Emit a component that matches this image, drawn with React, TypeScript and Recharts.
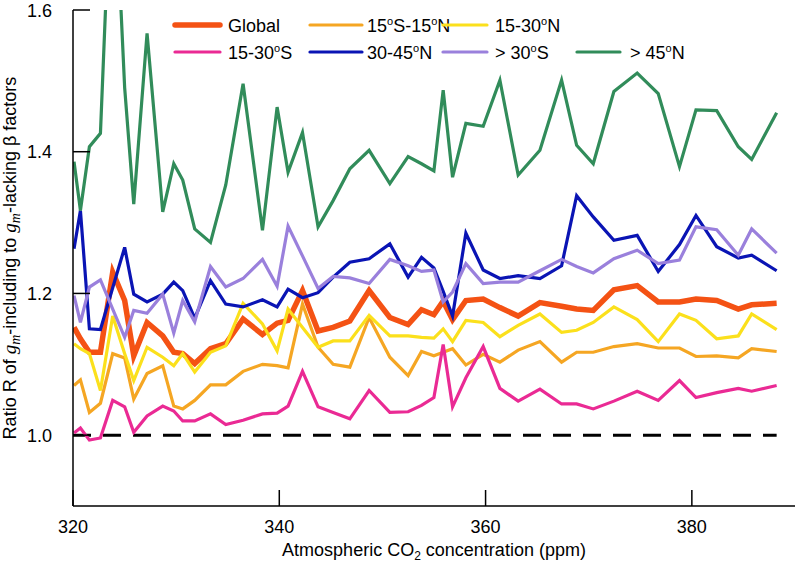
import React from 'react';
import { LineChart, Line, XAxis, YAxis, ReferenceLine, Legend } from 'recharts';

const FONT = '"Liberation Sans", Arial, Helvetica, sans-serif';
const SERIF = '"Liberation Serif", "DejaVu Serif", serif';

// CO2 (ppm) for each yearly point
const co2 = [
  320.1, 320.72, 321.59, 322.66, 323.85, 325.01, 325.89, 327.18, 328.7, 329.77,
  330.64, 331.8, 333.33, 334.81, 336.49, 338.37, 339.79, 340.85, 342.25, 343.76,
  345.22, 346.84, 348.71, 350.72, 352.49, 353.79, 354.99, 355.89, 356.8, 358.09,
  359.77, 361.39, 363.16, 365.27, 367.37, 368.83, 370.44, 372.44, 374.7, 376.74,
  378.8, 380.4, 382.41, 384.5, 385.8, 388.22,
];

const rGlobal = [
  1.152, 1.136, 1.117, 1.117, 1.23, 1.19, 1.112, 1.159, 1.14, 1.117,
  1.115, 1.101, 1.122, 1.129, 1.164, 1.142, 1.158, 1.162, 1.204, 1.147,
  1.152, 1.161, 1.204, 1.166, 1.156, 1.177, 1.17, 1.189, 1.163, 1.19,
  1.192, 1.18, 1.168, 1.187, 1.182, 1.178, 1.176, 1.205, 1.211, 1.188,
  1.188, 1.192, 1.19, 1.178, 1.184, 1.186,
];

const rTropics = [
  1.07, 1.078, 1.032, 1.045, 1.115, 1.109, 1.051, 1.087, 1.098, 1.041,
  1.037, 1.049, 1.071, 1.071, 1.09, 1.1, 1.098, 1.095, 1.185, 1.124,
  1.1, 1.096, 1.166, 1.11, 1.084, 1.118, 1.112, 1.117, 1.122, 1.099,
  1.114, 1.103, 1.12, 1.132, 1.103, 1.117, 1.117, 1.125, 1.129, 1.123,
  1.123, 1.111, 1.112, 1.109, 1.122, 1.118,
];

const rN15 = [
  1.129, 1.122, 1.115, 1.063, 1.168, 1.115, 1.077, 1.124, 1.11, 1.098,
  1.115, 1.089, 1.117, 1.126, 1.186, 1.157, 1.119, 1.178, 1.152, 1.124,
  1.133, 1.133, 1.169, 1.14, 1.14, 1.138, 1.137, 1.15, 1.132, 1.162,
  1.159, 1.139, 1.155, 1.171, 1.145, 1.148, 1.159, 1.181, 1.163, 1.132,
  1.171, 1.162, 1.136, 1.14, 1.171, 1.149,
];

const rS15 = [
  1.003, 1.01, 0.993, 0.996, 1.049, 1.04, 1.004, 1.027, 1.041, 1.034,
  1.02, 1.02, 1.03, 1.015, 1.021, 1.03, 1.031, 1.041, 1.09, 1.04,
  1.032, 1.023, 1.063, 1.032, 1.033, 1.042, 1.053, 1.128, 1.04, 1.081,
  1.125, 1.066, 1.048, 1.065, 1.044, 1.044, 1.037, 1.048, 1.062, 1.049,
  1.077, 1.053, 1.06, 1.066, 1.062, 1.07,
];

const rN30 = [
  1.263, 1.317, 1.15, 1.149, 1.208, 1.265, 1.199, 1.188, 1.199, 1.216,
  1.204, 1.165, 1.218, 1.185, 1.181, 1.191, 1.181, 1.206, 1.194, 1.201,
  1.223, 1.244, 1.249, 1.27, 1.223, 1.251, 1.236, 1.203, 1.168, 1.285,
  1.233, 1.221, 1.225, 1.221, 1.239, 1.338, 1.308, 1.275, 1.282, 1.231,
  1.269, 1.31, 1.266, 1.25, 1.254, 1.232,
];

const rS30 = [
  1.197, 1.159, 1.209, 1.219, 1.178, 1.138, 1.176, 1.172, 1.199, 1.144,
  1.19, 1.16, 1.238, 1.209, 1.221, 1.248, 1.21, 1.295, 1.253, 1.207,
  1.224, 1.222, 1.214, 1.248, 1.239, 1.231, 1.233, 1.188, 1.202, 1.242,
  1.214, 1.216, 1.216, 1.232, 1.248, 1.238, 1.229, 1.249, 1.261, 1.242,
  1.247, 1.294, 1.29, 1.254, 1.291, 1.257,
];

const rN45 = [
  1.386, 1.317, 1.407, 1.426, 1.85, 1.49, 1.326, 1.567, 1.315, 1.383,
  1.36, 1.291, 1.272, 1.353, 1.496, 1.289, 1.463, 1.371, 1.427, 1.294,
  1.331, 1.376, 1.402, 1.355, 1.393, 1.383, 1.373, 1.487, 1.364, 1.44,
  1.436, 1.501, 1.367, 1.402, 1.501, 1.409, 1.383, 1.485, 1.511, 1.482,
  1.379, 1.459, 1.458, 1.407, 1.389, 1.455,
];

const yTicks = [1.0, 1.2, 1.4, 1.6];
const xTicks = [320, 340, 360, 380];

const series = [
  { key: 'global', name: 'Global', color: '#f45214', width: 5.5, values: rGlobal },
  { key: 'tropics', name: '15°S-15°N', color: '#f5a623', width: 3.2, values: rTropics },
  { key: 'n15', name: '15-30°N', color: '#fbe01c', width: 3.2, values: rN15 },
  { key: 's15', name: '15-30°S', color: '#ea2a94', width: 3.2, values: rS15 },
  { key: 'n30', name: '30-45°N', color: '#0a14b4', width: 3.2, values: rN30 },
  { key: 's30', name: '> 30°S', color: '#9a80dc', width: 3.2, values: rS30 },
  { key: 'n45', name: '> 45°N', color: '#318c5a', width: 3.2, values: rN45 },
];

const data = co2.map((c, i) => {
  const row: Record<string, number> = { co2: c };
  series.forEach((s) => {
    row[s.key] = s.values[i];
  });
  return row;
});

// [line start, line end, text x, line y] for each legend entry
const legendSlots = [
  [175, 220, 228, 25],
  [310, 362, 367, 25],
  [443, 487, 495, 25],
  [175, 220, 228, 52],
  [310, 362, 367, 52],
  [443, 487, 495, 52],
  [577, 620, 630, 52],
];

// turns the degree sign into a small raised "o"
function degText(label: string) {
  const parts = label.split('°');
  return parts.map((p, i) => (
    <React.Fragment key={i}>
      {i > 0 && (
        <tspan dy={-7} fontSize={11}>
          o
        </tspan>
      )}
      <tspan dy={i > 0 ? 7 : 0}>{p}</tspan>
    </React.Fragment>
  ));
}

function renderLegend() {
  return (
    <svg width={799} height={70} style={{ display: 'block' }}>
      {series.map((s, i) => {
        const [x1, x2, tx, y] = legendSlots[i];
        return (
          <g key={s.key}>
            <line x1={x1} x2={x2} y1={y} y2={y} stroke={s.color} strokeWidth={s.width} strokeLinecap="round" />
            <text x={tx} y={y + 6.5} fontSize={18} fontFamily={FONT} fill="#000">
              {degText(s.name)}
            </text>
          </g>
        );
      })}
    </svg>
  );
}

function renderXTitle() {
  return (
    <text x={434} y={556} textAnchor="middle" fontSize={18} fontFamily={FONT} fill="#000">
      {'Atmospheric CO'}
      <tspan dy={4} fontSize={12}>
        2
      </tspan>
      <tspan dy={-4}>{' concentration (ppm)'}</tspan>
    </text>
  );
}

function renderYTitle() {
  return (
    <text
      x={15.5}
      y={258}
      transform="rotate(-90 15.5 258)"
      textAnchor="middle"
      fontSize={18}
      fontFamily={FONT}
      fill="#000"
    >
      {'Ratio R of '}
      <tspan fontFamily={SERIF} fontStyle="italic" fontSize={19}>g</tspan>
      <tspan fontFamily={SERIF} fontStyle="italic" fontSize={14} dy={4}>m</tspan>
      <tspan dy={-4}>{'-including to '}</tspan>
      <tspan fontFamily={SERIF} fontStyle="italic" fontSize={19}>g</tspan>
      <tspan fontFamily={SERIF} fontStyle="italic" fontSize={14} dy={4}>m</tspan>
      <tspan dy={-4}>{'-lacking β factors'}</tspan>
    </text>
  );
}

export default function App() {
  return (
    <div style={{ position: 'absolute', left: 0, top: 0, background: '#fff' }}>
      <LineChart width={799} height={562} data={data} margin={{ top: 10, right: 4, bottom: 0, left: 0 }}>
        <XAxis
          dataKey="co2"
          type="number"
          domain={[320, 390]}
          ticks={xTicks}
          allowDataOverflow
          height={56}
          tickSize={-16}
          tickMargin={30}
          axisLine={{ stroke: '#000', strokeWidth: 1.5 }}
          tickLine={{ stroke: '#000', strokeWidth: 1.5 }}
          tick={{ fontSize: 18, fill: '#000', fontFamily: FONT }}
          label={{ content: renderXTitle }}
        />
        <YAxis
          type="number"
          domain={[0.9, 1.6]}
          ticks={yTicks}
          allowDataOverflow
          width={73}
          tickSize={-17}
          tickMargin={38}
          tickFormatter={(v: number) => v.toFixed(1)}
          axisLine={{ stroke: '#000', strokeWidth: 1.5 }}
          tickLine={{ stroke: '#000', strokeWidth: 1.5 }}
          tick={{ fontSize: 18, fill: '#000', fontFamily: FONT }}
          label={{ content: renderYTitle }}
        />
        <ReferenceLine
          segment={[
            { x: 320, y: 1 },
            { x: co2[co2.length - 1], y: 1 },
          ]}
          stroke="#000"
          strokeWidth={3}
          strokeDasharray="18 12"
        />
        {series.map((s) => (
          <Line
            key={s.key}
            dataKey={s.key}
            name={s.name}
            stroke={s.color}
            strokeWidth={s.width}
            dot={false}
            activeDot={false}
            isAnimationActive={false}
          />
        ))}
        <Legend
          verticalAlign="middle"
          align="center"
          layout="horizontal"
          wrapperStyle={{ top: 0, left: 0, width: 799, height: 70, margin: 0, padding: 0 }}
          content={renderLegend}
        />
      </LineChart>
    </div>
  );
}
